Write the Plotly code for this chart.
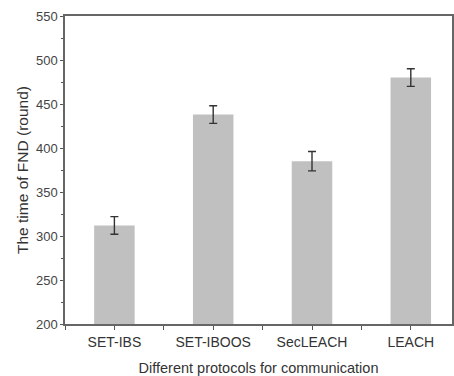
import plotly.graph_objects as go

categories = ["SET-IBS", "SET-IBOOS", "SecLEACH", "LEACH"]
values = [312, 438, 385, 480]
errors = [10, 10, 11, 10]
positions = [0, 1, 2, 3]

y_ticks = [200, 250, 300, 350, 400, 450, 500, 550]

fig = go.Figure()
fig.add_trace(go.Bar(
    x=positions, y=values, width=0.41,
    marker=dict(color="#c0c0c0", line=dict(width=0)),
    error_y=dict(type="data", array=errors, color="#333333", thickness=1.4, width=4),
))

font = "Liberation Sans, Arial, sans-serif"
fig.update_layout(
    width=454, height=376,
    margin=dict(l=65, r=0, t=16, b=51),
    paper_bgcolor="white", plot_bgcolor="white",
    showlegend=False,
    font=dict(family=font, color="#333333"),
    xaxis=dict(
        range=[-0.5, 3.417],
        tickvals=positions, ticktext=categories,
        tickfont=dict(size=14, color="#333333"),
        ticks="outside", ticklen=4, tickwidth=1, tickcolor="#555555",
        minor=dict(ticks="outside", ticklen=4, tickwidth=1, tickcolor="#555555", dtick=0.5, tick0=0.5),
        showline=True, linecolor="#666666", linewidth=1.5, mirror=True,
        showgrid=False, zeroline=False,
        title=dict(text="Different protocols for communication", font=dict(size=14.5, color="#333333"), standoff=16),
    ),
    yaxis=dict(
        range=[200, 550],
        tickvals=y_ticks,
        tickfont=dict(size=13, color="#444444"),
        ticks="outside", ticklen=3, tickwidth=1, tickcolor="#555555",
        minor=dict(ticks="outside", ticklen=2, tickwidth=1, tickcolor="#555555", dtick=25),
        showline=True, linecolor="#666666", linewidth=1.5, mirror=True,
        showgrid=False, zeroline=False,
        title=dict(text="The time of FND (round)", font=dict(size=15.5, color="#333333"), standoff=4),
    ),
)

fig.write_html("out.html")
